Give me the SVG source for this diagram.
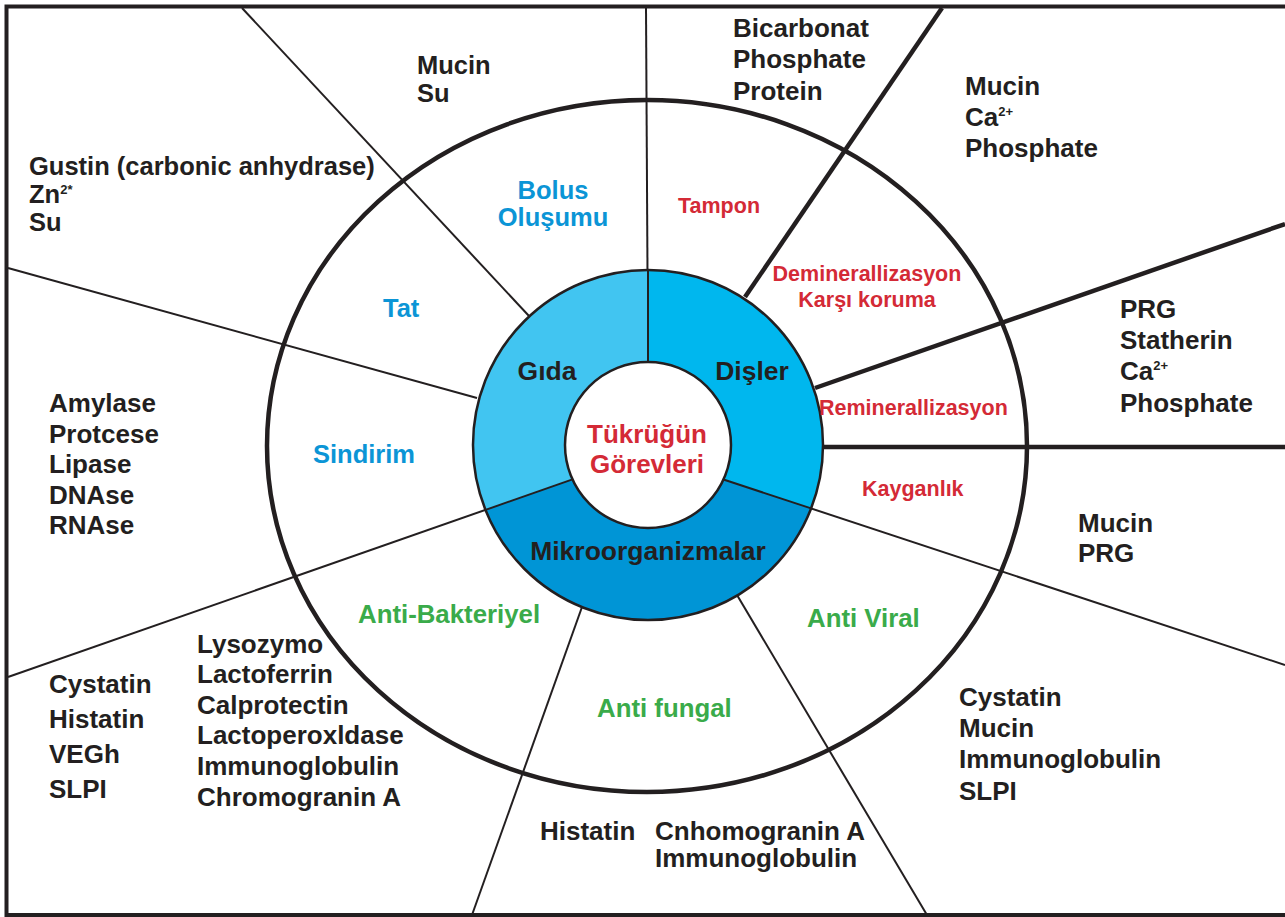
<svg xmlns="http://www.w3.org/2000/svg" width="1285" height="917" viewBox="0 0 1285 917">
<style>
text{font-family:"Liberation Sans",Arial,Helvetica,sans-serif;font-weight:bold}
.k{fill:#231f20;font-size:26px}
.s{font-size:25.5px}
.r{fill:#d42a36;font-size:21.5px}
.b{fill:#0b95d6;font-size:25.5px}
.g{fill:#3aab4a;font-size:25.8px}
.c{fill:#231f20;font-size:26.5px}
.t{fill:#d42a36;font-size:26px}
.m{text-anchor:middle}
.thin{stroke:#231f20;stroke-width:2;fill:none}
.thick{stroke:#231f20;stroke-width:4.5;fill:none}
.sup{font-size:13px}
</style>
<rect width="1285" height="917" fill="#fff"/>
<path d="M1285,6.5 H6.5 V915 H1285" fill="none" stroke="#231f20" stroke-width="4"/>
<ellipse cx="647" cy="446" rx="380" ry="346" fill="none" stroke="#231f20" stroke-width="4.5"/>
<g id="connectors">
<line class="thin" x1="646" y1="8" x2="648" y2="362"/>
<line class="thin" x1="242" y1="8" x2="529" y2="316"/>
<line class="thin" x1="8" y1="268" x2="477" y2="398"/>
<line class="thin" x1="8" y1="677" x2="572.5" y2="479.4"/>
<line class="thin" x1="582" y1="607" x2="472" y2="915"/>
<line class="thin" x1="737" y1="595" x2="927" y2="915"/>
<line class="thin" x1="723.5" y1="479.5" x2="1285" y2="665"/>
<line class="thick" x1="822" y1="447" x2="1285" y2="447"/>
<line class="thick" x1="815" y1="388" x2="1285" y2="224"/>
<line class="thick" x1="745" y1="297" x2="942" y2="8"/>
</g>
<g id="ring">
<path id="gida-seg" d="M648,270 A175,175 0 0 0 485.5,509.9 L572.5,479.4 A83,83 0 0 1 648,362 Z" fill="#41c5f1"/>
<path id="disler-seg" d="M648,270 A175,175 0 0 1 811.1,508.4 L723.5,479.5 A83,83 0 0 0 648,362 Z" fill="#00b7ee"/>
<path id="mikro-seg" d="M485.5,509.9 A175,175 0 0 0 811.1,508.4 L723.5,479.5 A83,83 0 0 1 572.5,479.4 Z" fill="#0095d6"/>
<line class="thin" x1="648" y1="270" x2="648" y2="362"/>
<line class="thin" x1="485.5" y1="509.9" x2="572.5" y2="479.4"/>
<line class="thin" x1="811.1" y1="508.4" x2="723.5" y2="479.5"/>
<circle cx="648" cy="445" r="175" fill="none" stroke="#231f20" stroke-width="2.5"/>
<circle cx="648" cy="445" r="83" fill="#fff" stroke="#231f20" stroke-width="2.5"/>
</g>
<g id="center"><text class="t m" x="647" y="443">Tükrüğün</text><text class="t m" x="647" y="473">Görevleri</text></g>
<g id="gida"><text class="c m" x="547" y="380">Gıda</text></g>
<g id="disler"><text class="c m" x="752" y="380">Dişler</text></g>
<g id="mikro"><text class="c m" x="648" y="560">Mikroorganizmalar</text></g>
<g id="bolus"><text class="b m" x="553" y="199">Bolus</text><text class="b m" x="553" y="226">Oluşumu</text></g>
<g id="tat"><text class="b" x="383" y="317">Tat</text></g>
<g id="sindirim"><text class="b" x="313" y="463">Sindirim</text></g>
<g id="tampon"><text class="r" x="678" y="213">Tampon</text></g>
<g id="demin"><text class="r m" x="867" y="281">Deminerallizasyon</text><text class="r m" x="867" y="307">Karşı koruma</text></g>
<g id="remin"><text class="r" x="819" y="415">Reminerallizasyon</text></g>
<g id="kaygan"><text class="r" x="862" y="496">Kayganlık</text></g>
<g id="antiviral"><text class="g" x="807" y="627">Anti Viral</text></g>
<g id="antifungal"><text class="g" x="597" y="717">Anti fungal</text></g>
<g id="antibakteriyel"><text class="g" x="358" y="623">Anti-Bakteriyel</text></g>
<g id="l-mucin-su"><text class="k s" x="417" y="74">Mucin</text><text class="k s" x="417" y="102">Su</text></g>
<g id="l-gustin"><text class="k s" x="29" y="175">Gustin (carbonic anhydrase)</text><text class="k s" x="29" y="203">Zn<tspan class="sup" dy="-9">2*</tspan></text><text class="k s" x="29" y="231">Su</text></g>
<g id="l-bicarb"><text class="k" x="733" y="37">Bicarbonat</text><text class="k" x="733" y="68">Phosphate</text><text class="k" x="733" y="100">Protein</text></g>
<g id="l-mucin-ca"><text class="k" x="965" y="95">Mucin</text><text class="k" x="965" y="126">Ca<tspan class="sup" dy="-10">2+</tspan></text><text class="k" x="965" y="157">Phosphate</text></g>
<g id="l-prg"><text class="k" x="1120" y="318">PRG</text><text class="k" x="1120" y="349">Statherin</text><text class="k" x="1120" y="380">Ca<tspan class="sup" dy="-10">2+</tspan></text><text class="k" x="1120" y="412">Phosphate</text></g>
<g id="l-mucin-prg"><text class="k" x="1078" y="532">Mucin</text><text class="k" x="1078" y="562">PRG</text></g>
<g id="l-viral"><text class="k" x="959" y="706">Cystatin</text><text class="k" x="959" y="737">Mucin</text><text class="k" x="959" y="768">Immunoglobulin</text><text class="k" x="959" y="800">SLPI</text></g>
<g id="l-fungal"><text class="k" x="540" y="840">Histatin</text><text class="k" x="655" y="840">Cnhomogranin A</text><text class="k" x="655" y="867">Immunoglobulin</text></g>
<g id="l-bakteri"><text class="k" x="197" y="653">Lysozymo</text><text class="k" x="197" y="683">Lactoferrin</text><text class="k" x="197" y="714">Calprotectin</text><text class="k" x="197" y="744">Lactoperoxldase</text><text class="k" x="197" y="775">Immunoglobulin</text><text class="k" x="197" y="806">Chromogranin A</text></g>
<g id="l-cystatin"><text class="k" x="49" y="693">Cystatin</text><text class="k" x="49" y="728">Histatin</text><text class="k" x="49" y="763">VEGh</text><text class="k" x="49" y="798">SLPI</text></g>
<g id="l-enzymes"><text class="k" x="49" y="412">Amylase</text><text class="k" x="49" y="443">Protcese</text><text class="k" x="49" y="473">Lipase</text><text class="k" x="49" y="504">DNAse</text><text class="k" x="49" y="534">RNAse</text></g>
</svg>
